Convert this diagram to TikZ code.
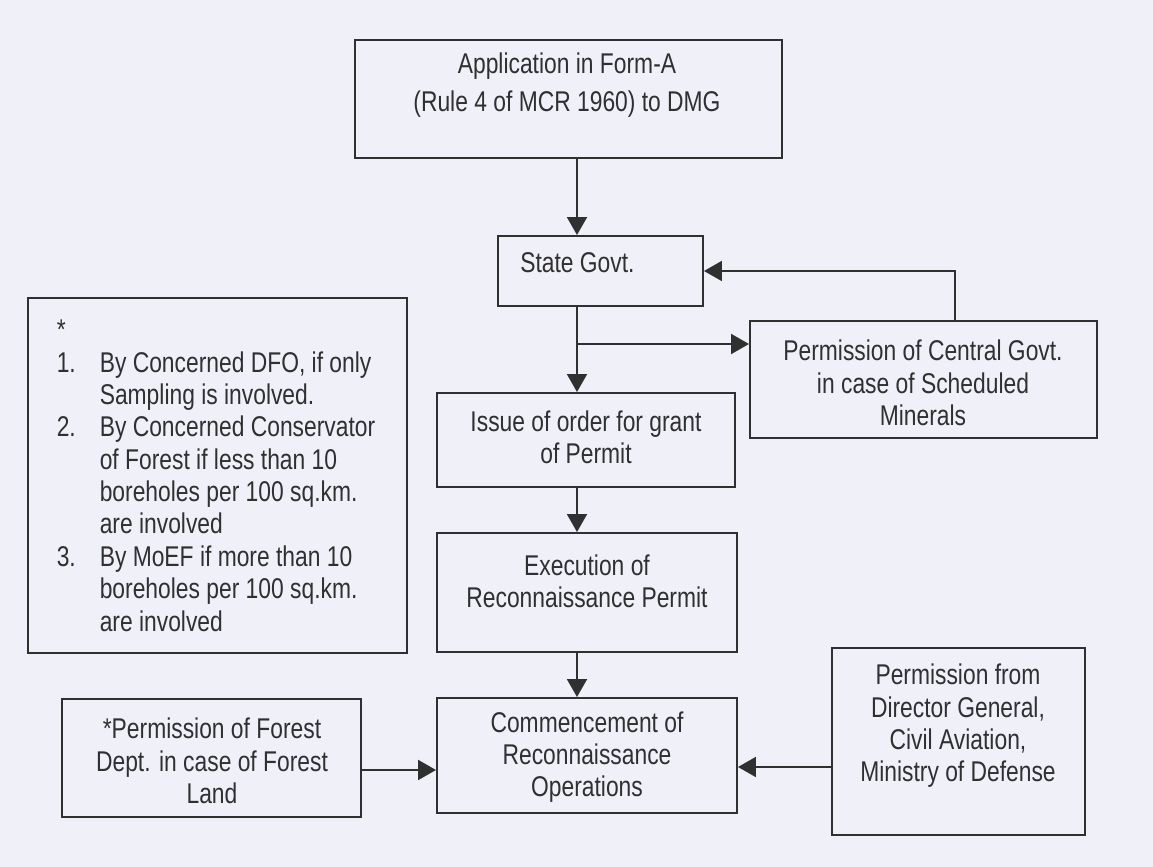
\documentclass[tikz,border=0pt]{standalone}
\usepackage{fontspec}
\setmainfont[FakeStretch=0.8]{Liberation Sans}
\usepackage{tikz}
\usetikzlibrary{arrows.meta}
\usetikzlibrary{fit}
\definecolor{ink}{HTML}{303030}
\definecolor{paper}{HTML}{F0F0F9}

\begin{document}
\begin{tikzpicture}[x=0.025cm, y=-0.025cm]
	\useasboundingbox (0,0) rectangle (1153,867);
	\fill[paper] (0,0) rectangle (1153,867);
	% boxes
	\begin{scope}[every node/.style = {draw=ink, line width=1.4pt, inner sep=0pt}]
		\node[fit={(355,40) (782,158)}] (app) {};
		\node[fit={(498,236) (703,306)}] (state) {};
		\node[fit={(750,321) (1097,438)}] (central) {};
		\node[fit={(437,393) (735,487)}] (issue) {};
		\node[fit={(437,533) (737,652)}] (exec) {};
		\node[fit={(437,698) (737,813)}] (comm) {};
		\node[fit={(28,298) (407,653)}] (note) {};
		\node[fit={(62,699) (361,817)}] (forest) {};
		\node[fit={(832,648) (1085,835)}] (mod) {};
	\end{scope}
	% texts
	\begin{scope}[every node/.style = {text=ink, align=center, inner sep=0pt,
			font=\fontsize{20.3}{23}\selectfont}]
		\node (appT) at (567,85) {Application in Form-A\\[4pt](Rule 4 of MCR 1960) to DMG};
		\node[anchor=west] (stateT) at (520,263) {State Govt.};
		\node (centralT) at (923,383) {Permission of Central Govt.\\in case of Scheduled\\Minerals};
		\node (issueT) at (586,437) {Issue of order for grant\\of Permit};
		\node (execT) at (587,581) {Execution of\\Reconnaissance Permit};
		\node (commT) at (587,757) {Commencement of\\Reconnaissance\\Operations};
		\node (forestT) at (212,761) {*Permission of Forest\\Dept. in case of Forest\\Land};
		\node (modT) at (958,726) {Permission from\\Director General,\\Civil Aviation,\\Ministry of Defense};
		\node (noteT) at (216,479) {\begin{tabular}{@{}p{1.075cm}@{}l@{}}
				* & \\
				1. & By Concerned DFO, if only\\
				& Sampling is involved.\\
				2. & By Concerned Conservator\\
				& of Forest if less than 10\\
				& boreholes per 100 sq.km.\\
				& are involved\\
				3. & By MoEF if more than 10\\
				& boreholes per 100 sq.km.\\
				& are involved
			\end{tabular}};
	\end{scope}
	\coordinate (col) at (577,0);
	\coordinate (fork) at (577,344);
	\coordinate (back) at (955,0);
	\coordinate (lrow) at (0,770);
	\coordinate (rrow) at (0,767);
	% connectors
	\begin{scope}[>={Triangle[length=0.45cm, width=0.5cm]},
			every edge/.style={draw=ink, line width=1.4pt}]
		\path [->] (app.south -| col) edge (state.north -| col);
		\path [->] (state.south -| col) edge (issue.north -| col);
		\path [->] (fork) edge (central.west |- fork);
		\path [->] (central.north -| back) edge[to path={|- (\tikztotarget)}] (state.east);
		\path [->] (issue.south -| col) edge (exec.north -| col);
		\path [->] (exec.south -| col) edge (comm.north -| col);
		\path [->] (forest.east |- lrow) edge (comm.west |- lrow);
		\path [->] (mod.west |- rrow) edge (comm.east |- rrow);
	\end{scope}
\end{tikzpicture}
\end{document}
